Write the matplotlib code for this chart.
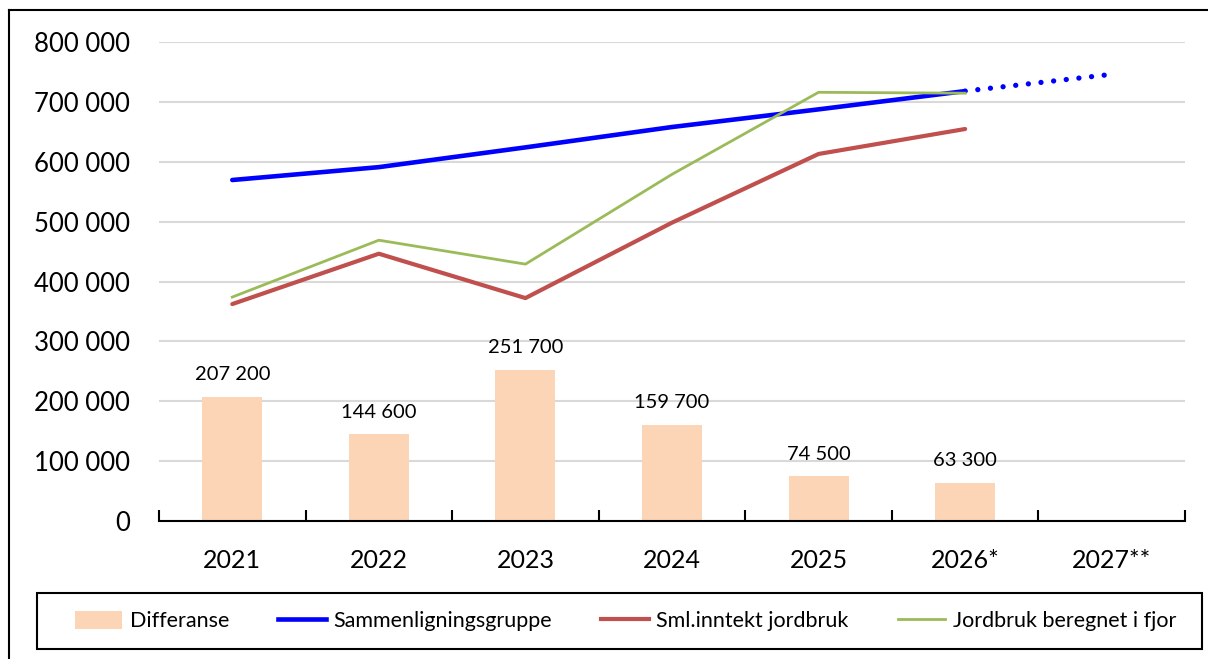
import numpy as np
import matplotlib
matplotlib.use("Agg")
import matplotlib.pyplot as plt
from matplotlib.lines import Line2D
from matplotlib.patches import Rectangle

# ------------------------------------------------------------------------------------------------ #
# data
years = ['2021', '2022', '2023', '2024', '2025', '2026*', '2027**']
differanse = [207200, 144600, 251700, 159700, 74500, 63300]
diffLabels = ['207 200', '144 600', '251 700', '159 700', '74 500', '63 300']
sammenligning = [569500, 591000, 624000, 658000, 687500, 718000]
sammenligningProg = [718000, 746000]
smlJordbruk = [362300, 446400, 372300, 498300, 613000, 654700]
jordbrukFjor = [374000, 469000, 429000, 579000, 716000, 714500]
yTicks = [0, 100000, 200000, 300000, 400000, 500000, 600000, 700000, 800000]
# ------------------------------------------------------------------------------------------------ #

plt.rcParams['font.family'] = ['Lato', 'DejaVu Sans']

fig = plt.figure(figsize=(12.08, 6.59), dpi=100)
ax = fig.add_axes([159/1208, 1 - 521/659, (1185 - 159)/1208, (521 - 42)/659])

x = np.arange(len(years))
n = len(differanse)

bars = ax.bar(x[:n], differanse, width=0.41, color='#FBD5B5', zorder=2, label='Differanse')
for i in range(n):
    ax.annotate(diffLabels[i], (x[i], differanse[i]), xytext=(0, 10), textcoords='offset points',
                ha='center', va='bottom', fontsize=14.5, color='black')

ax.plot(x[:n], sammenligning, color='#0000FF', lw=3.3, solid_capstyle='round', zorder=4,
        label='Sammenligningsgruppe')
ax.plot(x[n-1:n+1], sammenligningProg, color='#0000FF', lw=3.8, linestyle=(0, (0.01, 2.4)),
        dash_capstyle='round', zorder=4)
ax.plot(x[:n], smlJordbruk, color='#C0504D', lw=3.0, solid_capstyle='round', zorder=3,
        label='Sml.inntekt jordbruk')
ax.plot(x[:n], jordbrukFjor, color='#9BBB59', lw=2.0, zorder=5, label='Jordbruk beregnet i fjor')

ax.set_xlim(-0.5, len(years) - 0.5)
ax.set_ylim(0, 800000)
ax.set_yticks(yTicks)
ax.set_yticklabels([f'{v:,}'.replace(',', ' ') for v in yTicks], fontsize=18.5)
ax.yaxis.grid(True, color='#D9D9D9', lw=1.5, zorder=0)
ax.tick_params(axis='y', length=0, pad=21)

ax.set_xticks(x)
ax.set_xticklabels(years, fontsize=18)
ax.set_xticks(np.arange(-0.5, len(years)), minor=True)
ax.tick_params(axis='x', which='major', length=0, pad=20)
ax.tick_params(axis='x', which='minor', length=8, width=1.5, direction='in', color='black')

for side in ['left', 'right', 'top']:
    ax.spines[side].set_visible(False)
ax.spines['bottom'].set_linewidth(1.5)
ax.set_axisbelow(True)

# legend: frameless entries spread across, box drawn separately
handles = [bars,
           Line2D([], [], color='#0000FF', lw=3.3),
           Line2D([], [], color='#C0504D', lw=3.0),
           Line2D([], [], color='#9BBB59', lw=2.0)]
labels = ['Differanse', 'Sammenligningsgruppe', 'Sml.inntekt jordbruk', 'Jordbruk beregnet i fjor']
leg = fig.legend(handles, labels, loc='center left', ncol=4, mode='expand',
                 bbox_to_anchor=(75/1208, 1 - 649/659, (1176 - 75)/1208, 56/659),
                 bbox_transform=fig.transFigure, fontsize=15.5, frameon=False,
                 handlelength=2.2, handleheight=0.9, handletextpad=0.35, borderaxespad=0,
                 borderpad=0, columnspacing=0.5)
fig.add_artist(Rectangle((37/1208, 1 - 649/659), (1202 - 37)/1208, 56/659, fill=False,
                         edgecolor='black', lw=1.5, transform=fig.transFigure))

# outer frame of the figure (only left and top visible)
fig.add_artist(Line2D([9/1208, 9/1208], [0, 1 - 10/659], color='black', lw=1.5,
                      transform=fig.transFigure))
fig.add_artist(Line2D([9/1208, 1], [1 - 10/659, 1 - 10/659], color='black', lw=1.5,
                      transform=fig.transFigure))

fig.savefig('out.png', dpi=100)
